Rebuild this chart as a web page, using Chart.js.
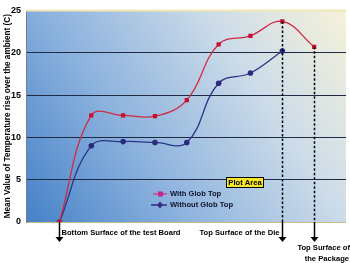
<!DOCTYPE html>
<html>
<head>
<meta charset="utf-8">
<script src="https://cdn.jsdelivr.net/npm/chart.js@4.4.0/dist/chart.umd.min.js"></script>
<style>
    html, body { margin: 0; padding: 0; background: #ffffff; }
    #wrap { width: 350px; height: 263px; position: relative; }
</style>
</head>
<body>
<div id="wrap"><canvas id="temp-chart"></canvas></div>
<script>
// Measuring positions through the package (index along the x axis)
const positions = [0, 1, 2, 3, 4, 5, 6, 7, 8];
const withGlobTop = [0, 12.6, 12.6, 12.5, 14.4, 21.0, 22.0, 23.7, 20.7];
const withoutGlobTop = [0, 9.0, 9.5, 9.4, 9.4, 16.4, 17.6, 20.2, null];
const yTicks = [0, 5, 10, 15, 20, 25];

// Surface markers: which point each arrow starts from and its label lines
const surfaceMarks = [
    { index: 0, from: 'axis', dashed: false, lines: ['Bottom Surface of the test Board'], align: 'left' },
    { index: 7, from: 'with', dashed: true, lines: ['Top Surface of the Die'], align: 'right' },
    { index: 8, from: 'with', dashed: true, lines: ['Top Surface of', 'the Package'], align: 'right' }
];

const FONT = '"Liberation Sans", Arial, sans-serif';

function toPoints(values) {
    return positions.map((x, i) => ({ x: x, y: values[i] }));
}

// Gradient background + borders of the plot area
const plotBackground = {
    id: 'plotBackground',
    beforeDraw(chart) {
        const { ctx, chartArea: a } = chart;
        ctx.save();
        const g = ctx.createLinearGradient(a.left, a.bottom, a.right, a.top);
        g.addColorStop(0, '#4681c8');
        g.addColorStop(0.35, '#8db3de');
        g.addColorStop(0.7, '#cddce9');
        g.addColorStop(1, '#f6f2da');
        ctx.fillStyle = g;
        ctx.fillRect(a.left, a.top, a.right - a.left, a.bottom - a.top);
        ctx.restore();
    },
    afterDatasetsDraw(chart) {
        const { ctx, chartArea: a } = chart;
        ctx.save();
        // top border
        ctx.strokeStyle = '#f1e8b4';
        ctx.lineWidth = 2;
        ctx.beginPath();
        ctx.moveTo(a.left, a.top);
        ctx.lineTo(a.right, a.top);
        ctx.stroke();
        ctx.restore();
    }
};

// Dashed drop lines, arrows and their labels
const surfaceArrows = {
    id: 'surfaceArrows',
    afterDatasetsDraw(chart) {
        const { ctx, chartArea: a } = chart;
        const xs = chart.scales.x, ys = chart.scales.y;
        const tipY = a.bottom + 20;
        ctx.save();
        surfaceMarks.forEach(m => {
            const px = Math.round(xs.getPixelForValue(positions[m.index])) + 0.5;
            const startY = m.from === 'axis' ? a.bottom : ys.getPixelForValue(withGlobTop[m.index]);
            ctx.strokeStyle = '#000';
            ctx.lineWidth = 1.5;
            if (m.dashed) {
                ctx.setLineDash([2.5, 2]);
                ctx.beginPath();
                ctx.moveTo(px, startY);
                ctx.lineTo(px, a.bottom);
                ctx.stroke();
            }
            ctx.setLineDash([]);
            ctx.beginPath();
            ctx.moveTo(px, a.bottom);
            ctx.lineTo(px, tipY - 4);
            ctx.stroke();
            ctx.fillStyle = '#000';
            ctx.beginPath();
            ctx.moveTo(px - 4, tipY - 5);
            ctx.lineTo(px + 4, tipY - 5);
            ctx.lineTo(px, tipY);
            ctx.closePath();
            ctx.fill();

            ctx.font = 'bold 7.6px ' + FONT;
            ctx.textBaseline = 'middle';
            if (m.lines.length === 1) {
                ctx.textAlign = m.align;
                const tx = m.align === 'left' ? px + 2 : px - 3;
                ctx.fillText(m.lines[0], tx, a.bottom + 11);
            } else {
                ctx.textAlign = 'right';
                ctx.fillText(m.lines[0], 350, a.bottom + 26);
                ctx.fillText(m.lines[1], 349, a.bottom + 37);
            }
        });
        ctx.restore();
    }
};

// Legend and "Plot Area" tag inside the plot
const insideLegend = {
    id: 'insideLegend',
    afterDatasetsDraw(chart) {
        const { ctx, chartArea: a } = chart;
        ctx.save();
        const lx = a.left + 127, ly = a.bottom - 28;
        ctx.font = 'bold 7.6px ' + FONT;
        ctx.textBaseline = 'middle';
        ctx.textAlign = 'left';
        // with glob top
        ctx.strokeStyle = '#d5409a';
        ctx.lineWidth = 1.5;
        ctx.beginPath();
        ctx.moveTo(lx, ly);
        ctx.lineTo(lx + 14, ly);
        ctx.stroke();
        ctx.fillStyle = '#c0288a';
        ctx.fillRect(lx + 5, ly - 2.5, 5, 5);
        ctx.fillStyle = '#10142a';
        ctx.fillText('With Glob Top', lx + 17, ly);
        // without glob top
        const ly2 = ly + 11;
        ctx.strokeStyle = '#2a3282';
        ctx.beginPath();
        ctx.moveTo(lx - 2, ly2);
        ctx.lineTo(lx + 14, ly2);
        ctx.stroke();
        ctx.fillStyle = '#3a2a8a';
        ctx.beginPath();
        ctx.moveTo(lx + 7, ly2 - 3.5);
        ctx.lineTo(lx + 10, ly2);
        ctx.lineTo(lx + 7, ly2 + 3.5);
        ctx.lineTo(lx + 4, ly2);
        ctx.closePath();
        ctx.fill();
        ctx.fillStyle = '#10142a';
        ctx.fillText('Without Glob Top', lx + 17, ly2);

        // Plot Area tag
        const bx = a.left + 200, by = a.bottom - 45;
        ctx.fillStyle = '#f7e62c';
        ctx.fillRect(bx, by, 38, 11);
        ctx.strokeStyle = '#000';
        ctx.lineWidth = 1;
        ctx.strokeRect(bx + 0.5, by + 0.5, 37, 10);
        ctx.fillStyle = '#000';
        ctx.textAlign = 'center';
        ctx.fillText('Plot Area', bx + 19, by + 6);
        ctx.restore();
    }
};

const ctx = document.getElementById('temp-chart');
new Chart(ctx, {
    type: 'line',
    data: {
        datasets: [{
            label: 'With Glob Top',
            data: toPoints(withGlobTop),
            borderColor: '#cf2b40',
            borderWidth: 1.3,
            tension: 0.4,
            pointStyle: 'rect',
            pointRadius: 3,
            pointBackgroundColor: '#c8102e',
            pointBorderColor: '#c8102e',
            pointBorderWidth: 0
        }, {
            label: 'Without Glob Top',
            data: toPoints(withoutGlobTop),
            borderColor: '#2b3586',
            borderWidth: 1.3,
            tension: 0.4,
            pointStyle: 'circle',
            pointRadius: 2.8,
            pointBackgroundColor: '#2b2a80',
            pointBorderColor: '#2b2a80',
            pointBorderWidth: 0
        }]
    },
    options: {
        responsive: true,
        maintainAspectRatio: false,
        animation: false,
        layout: { padding: { top: 3, right: 2, bottom: 41, left: 0 } },
        plugins: {
            legend: { display: false },
            tooltip: { enabled: false }
        },
        scales: {
            x: {
                type: 'linear',
                min: -1.05,
                max: 9,
                display: false
            },
            y: {
                min: 0,
                max: 25,
                afterFit(scale) { scale.width = 26; },
                afterBuildTicks(scale) { scale.ticks = yTicks.map(v => ({ value: v })); },
                border: { display: true, color: '#6f7f98', width: 1 },
                grid: {
                    drawTicks: false,
                    lineWidth: 1,
                    color(c) {
                        if (c.tick.value === 0) return '#c9bb80';
                        if (c.tick.value === 25) return 'rgba(0,0,0,0)';
                        return '#1f2a44';
                    }
                },
                ticks: {
                    padding: 5,
                    color: '#000',
                    font: { family: FONT, size: 9, weight: 'bold' }
                },
                title: {
                    display: true,
                    text: 'Mean Value of Temperature rise over the ambient (C)',
                    color: '#000',
                    padding: { top: 3, bottom: 0 },
                    font: { family: FONT, size: 8.2, weight: 'bold' }
                }
            }
        }
    },
    plugins: [plotBackground, surfaceArrows, insideLegend]
});
</script>
</body>
</html>
